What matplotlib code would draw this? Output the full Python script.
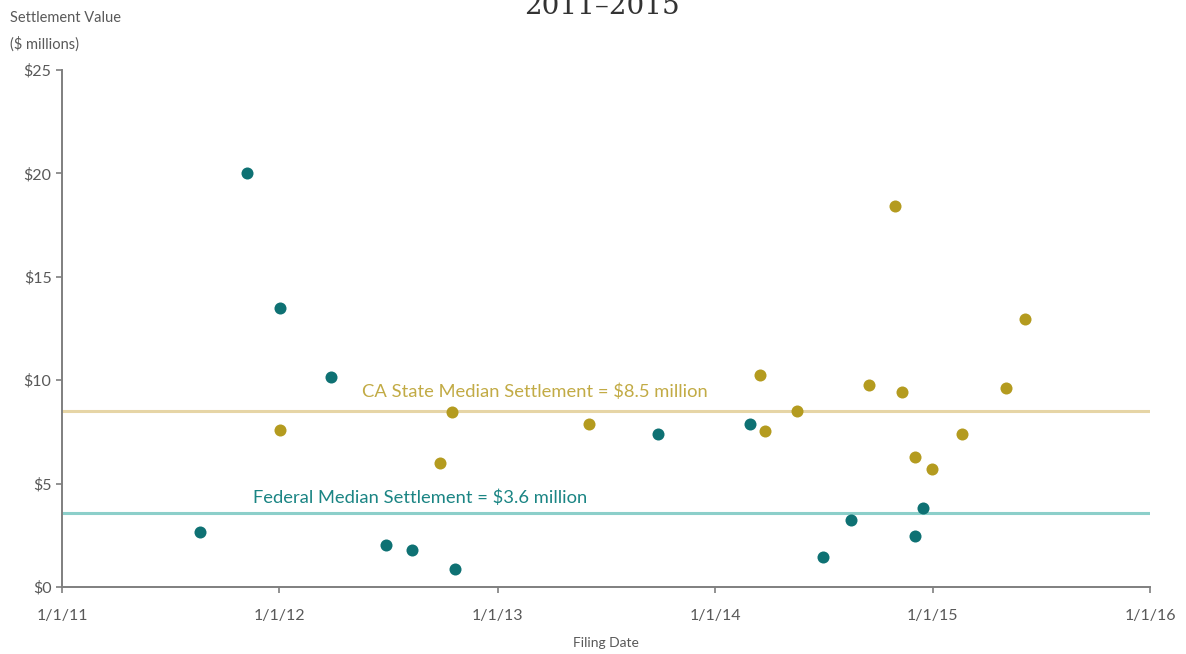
import pandas as pd
import matplotlib.pyplot as plt
import matplotlib.dates as mdates
from matplotlib.ticker import FuncFormatter

# Federal settlements (teal)
fed_dates = ['2011-08-20', '2011-11-07', '2012-01-02', '2012-03-28', '2012-06-28',
             '2012-08-10', '2012-10-22', '2013-09-27', '2014-02-28', '2014-07-01',
             '2014-08-18', '2014-12-02', '2014-12-16']
fed_values = [2.65, 20.0, 13.5, 10.15, 2.05, 1.78, 0.85, 7.4, 7.9, 1.45, 3.25, 2.47, 3.8]

# CA state settlements (gold)
state_dates = ['2012-01-02', '2012-09-27', '2012-10-16', '2013-06-03', '2014-03-18',
               '2014-03-26', '2014-05-18', '2014-09-16', '2014-10-30', '2014-11-10',
               '2014-12-02', '2014-12-31', '2015-02-20', '2015-05-04', '2015-06-05']
state_values = [7.6, 6.0, 8.45, 7.9, 10.25, 7.55, 8.5, 9.75, 18.4, 9.45,
                6.3, 5.7, 7.4, 9.6, 12.95]

fed_median = 3.6
state_median = 8.5

x_ticks = ['2011-01-01', '2012-01-01', '2013-01-01', '2014-01-01', '2015-01-01', '2016-01-01']
y_ticks = [0, 5, 10, 15, 20, 25]

TEAL = '#0e7173'
GOLD = '#b49b1f'
FED_LINE = '#8ccfca'
STATE_LINE = '#e6d5a6'
GRAY = '#595959'

plt.rcParams['font.family'] = ['Lato', 'DejaVu Sans']

fig = plt.figure(figsize=(11.86, 6.54), dpi=100)
W, H = 1186, 654
ax = fig.add_axes([62 / W, (H - 587) / H, (1150 - 62) / W, (587 - 70) / H])

fd = pd.to_datetime(fed_dates)
sd = pd.to_datetime(state_dates)
xt = pd.to_datetime(x_ticks)

ax.axhline(state_median, color=STATE_LINE, lw=2.2, zorder=1)
ax.axhline(fed_median, color=FED_LINE, lw=2.2, zorder=1)

ax.scatter(fd, fed_values, s=75, color=TEAL, zorder=3, linewidths=0)
ax.scatter(sd, state_values, s=75, color=GOLD, zorder=3, linewidths=0)

ax.text(pd.Timestamp('2012-05-18'), 9.45, f'CA State Median Settlement = ${state_median} million',
        color='#c2ab45', fontsize=13.2, va='center', ha='left')
ax.text(pd.Timestamp('2011-11-18'), 4.3, f'Federal Median Settlement = ${fed_median} million',
        color='#1b8584', fontsize=13.2, va='center', ha='left')

ax.set_xlim(xt[0], xt[-1])
ax.set_ylim(0, 25)
ax.set_xticks(xt)
ax.xaxis.set_major_formatter(FuncFormatter(lambda v, p: f'1/1/{mdates.num2date(v).year % 100}'))
ax.set_yticks(y_ticks)
ax.yaxis.set_major_formatter(FuncFormatter(lambda v, p: f'${v:.0f}'))

for s in ['top', 'right']:
    ax.spines[s].set_visible(False)
for s in ['left', 'bottom']:
    ax.spines[s].set_color('#7f7f7f')
    ax.spines[s].set_linewidth(1.4)
ax.tick_params(axis='both', colors='#7f7f7f', labelcolor=GRAY, labelsize=11.5, length=4, width=1.2)
ax.tick_params(axis='x', pad=12)

ax.set_xlabel('Filing Date', color=GRAY, fontsize=10, labelpad=10)

fig.text(10 / W, (H - 18) / H, 'Settlement Value', color=GRAY, fontsize=10.5, va='center', ha='left')
fig.text(10 / W, (H - 44) / H, '($ millions)', color=GRAY, fontsize=10.5, va='center', ha='left')

# title sits partly above the top edge, as in the source image
fig.text(602 / W, (H - 14) / H, '2011\u20132015', color='#333333', fontsize=20,
         family='DejaVu Serif', ha='center', va='baseline')

fig.savefig('out.png', dpi=100, facecolor='white')
